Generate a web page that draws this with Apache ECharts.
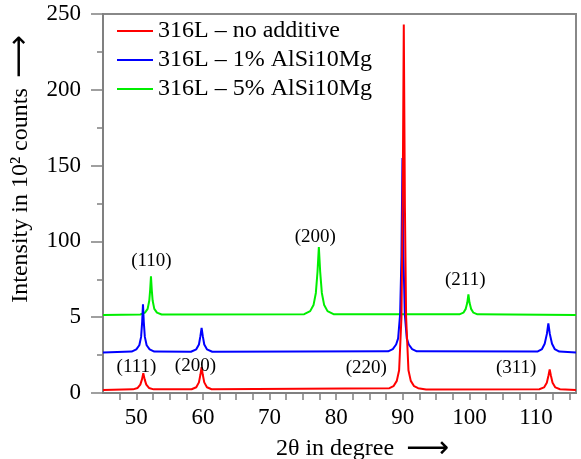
<!DOCTYPE html>
<html>
<head>
<meta charset="utf-8">
<script src="https://cdn.jsdelivr.net/npm/echarts@6/dist/echarts.min.js"></script>
<style>html,body{margin:0;padding:0;background:#fff}#c{width:581px;height:459px}</style>
</head>
<body>
<div id="c"></div>
<script>
// ---- data ----
var seriesNames = ['316L \u2013 no additive', '316L \u2013 1% AlSi10Mg', '316L \u2013 5% AlSi10Mg'];
var seriesColors = ['#ff0000', '#0000ff', '#00ee00'];

// 2theta / plotted intensity pairs (y axis is a stacked offset scale)
var redData = [
  [45,2],[49.5,2.4],[50.2,3.3],[50.6,5.5],[50.85,9],[51.05,13],[51.25,9],[51.5,5.5],[51.9,3.3],[52.6,2.4],
  [58.3,2.5],[59.0,3.8],[59.4,7],[59.62,12],[59.8,17],[59.98,12],[60.2,7],[60.6,3.8],[61.3,2.5],
  [88.0,3.2],[88.6,4.5],[89.1,8],[89.45,15],[89.8,50],[89.98,122],[90.15,243],[90.32,122],[90.5,50],[90.85,15],[91.2,8],[91.7,4.5],[92.3,3.2],[93.5,2.3],
  [110.5,2.5],[111.2,3.7],[111.62,6.8],[111.87,11.5],[112.05,15.5],[112.23,11.5],[112.48,6.8],[112.9,3.7],[113.6,2.5],[116,2]
];
var blueData = [
  [45,26.7],[49.3,27.3],[50.0,28.8],[50.45,31.5],[50.72,37],[50.88,47],[51.0,58.5],[51.12,47],[51.28,37],[51.55,31.5],[52.0,28.8],[52.7,27.3],
  [58.2,27.2],[59.0,28.8],[59.4,32],[59.62,37.5],[59.8,43],[59.98,37.5],[60.2,32],[60.6,28.8],[61.4,27.2],
  [87.8,27.5],[88.5,29],[89.0,32],[89.3,36],[89.6,52],[89.8,90],[89.95,155],[90.1,90],[90.3,52],[90.6,36],[90.9,32],[91.4,29],[92.1,27.5],
  [110.2,27.3],[110.9,29],[111.3,32.5],[111.63,39],[111.85,46],[112.07,39],[112.4,32.5],[112.8,29],[113.5,27.3],[116,26.7]
];
var greenData = [
  [45,51.4],[50.6,51.8],[51.3,53],[51.7,55.5],[51.95,61],[52.08,68],[52.2,77],[52.32,68],[52.45,61],[52.7,55.5],[53.1,53],[53.8,51.8],
  [75.2,52],[76.1,54],[76.6,58],[76.95,66],[77.2,80],[77.4,96.3],[77.6,80],[77.85,66],[78.2,58],[78.7,54],[79.6,52],
  [98.5,51.9],[99.1,53],[99.45,55.5],[99.68,59.5],[99.85,65],[100.02,59.5],[100.25,55.5],[100.6,53],[101.2,51.9],[116,51.4]
];

// peak labels: [2theta, y, text]
var peakLabels = [
  [52.35, 86.5, '(110)'],
  [76.95, 102.5, '(200)'],
  [99.45, 74.3, '(211)'],
  [50.1, 17, '(111)'],
  [58.95, 17.5, '(200)'],
  [84.6, 16, '(220)'],
  [107.1, 16, '(311)']
];

// axis ticks / labels
var xMin = 45, xMax = 116;
var xLabelValues = [50, 60, 70, 80, 90, 100, 110];
var xTickValues = [47.5,50,52.5,55,57.5,60,62.5,65,67.5,70,72.5,75,77.5,80,82.5,85,87.5,90,92.5,95,97.5,100,102.5,105,107.5,110,112.5,115];
var yTickValues = [0, 50, 100, 150, 200, 250];
var yTickLabels = ['0', '5', '100', '150', '200', '250'];

var serif = 'Liberation Serif, Times New Roman, serif';

var chart = echarts.init(document.getElementById('c'), null, {renderer: 'canvas'});
var dataSets = [redData, blueData, greenData];
var series = [];
// draw green first, red last (on top)
[2, 1, 0].forEach(function (i) {
  series.push({
    name: seriesNames[i],
    type: 'line',
    data: dataSets[i],
    showSymbol: false,
    symbol: 'none',
    lineStyle: {color: seriesColors[i], width: 2},
    itemStyle: {color: seriesColors[i]},
    z: 3 + (2 - i),
    animation: false
  });
});
series.push({
  type: 'scatter',
  data: peakLabels,
  symbolSize: 1,
  silent: true,
  z: 10,
  itemStyle: {opacity: 0},
  label: {
    show: true,
    position: [0, 0],
    align: 'center',
    verticalAlign: 'middle',
    formatter: function (p) { return p.data[2]; },
    fontFamily: serif,
    fontSize: 19,
    color: '#000',
    opacity: 1
  },
  animation: false
});

chart.setOption({
  animation: false,
  grid: {left: 103, right: 5, top: 14, bottom: 66, outerBoundsMode: 'none', containLabel: false,
    show: true, borderColor: '#888', borderWidth: 2, backgroundColor: 'transparent'},
  legend: {
    data: seriesNames,
    orient: 'vertical',
    left: 112,
    top: 14,
    itemWidth: 36,
    itemHeight: 20,
    itemGap: 5,
    icon: 'path://M0,9 L36,9 L36,11 L0,11 Z',
    textStyle: {fontFamily: serif, fontSize: 24, color: '#000'}
  },
  xAxis: {
    type: 'value',
    min: xMin,
    max: xMax,
    name: '2\u03b8 in degree{a|\u27f6}',
    nameLocation: 'middle',
    nameGap: 39,
    nameTextStyle: {fontFamily: serif, fontSize: 24, color: '#000', padding: [0, 0, 0, 46],
      rich: {a: {fontFamily: 'DejaVu Sans', fontSize: 30, color: '#000', padding: [0, 0, 0, 12]}}},
    axisLine: {lineStyle: {color: '#808080', width: 2}},
    axisTick: {show: true, length: 7, lineStyle: {color: '#808080', width: 1.5}, customValues: xTickValues},
    axisLabel: {fontFamily: serif, fontSize: 23, color: '#000', margin: 13, customValues: xLabelValues},
    splitLine: {show: false}
  },
  yAxis: {
    type: 'value',
    min: 0,
    max: 250,
    interval: 50,
    name: 'Intensity in 10\u00b2 counts{a|\u27f6}',
    nameLocation: 'middle',
    nameRotate: 90,
    nameGap: 58,
    nameTextStyle: {fontFamily: serif, fontSize: 24, color: '#000', padding: [0, 0, 0, 69],
      rich: {a: {fontFamily: 'DejaVu Sans', fontSize: 30, color: '#000', padding: [0, 0, 0, 10]}}},
    axisLine: {show: true, lineStyle: {color: '#808080', width: 2}},
    axisTick: {show: true, length: 12, lineStyle: {color: '#808080', width: 1.5}},
    minorTick: {show: true, splitNumber: 2, length: 6, lineStyle: {color: '#808080', width: 1.5}},
    axisLabel: {
      fontFamily: serif, fontSize: 23, color: '#000', margin: 22,
      formatter: function (v) { var k = yTickValues.indexOf(v); return k >= 0 ? yTickLabels[k] : ''; }
    },
    splitLine: {show: false}
  },
  series: series
});
</script>
</body>
</html>
